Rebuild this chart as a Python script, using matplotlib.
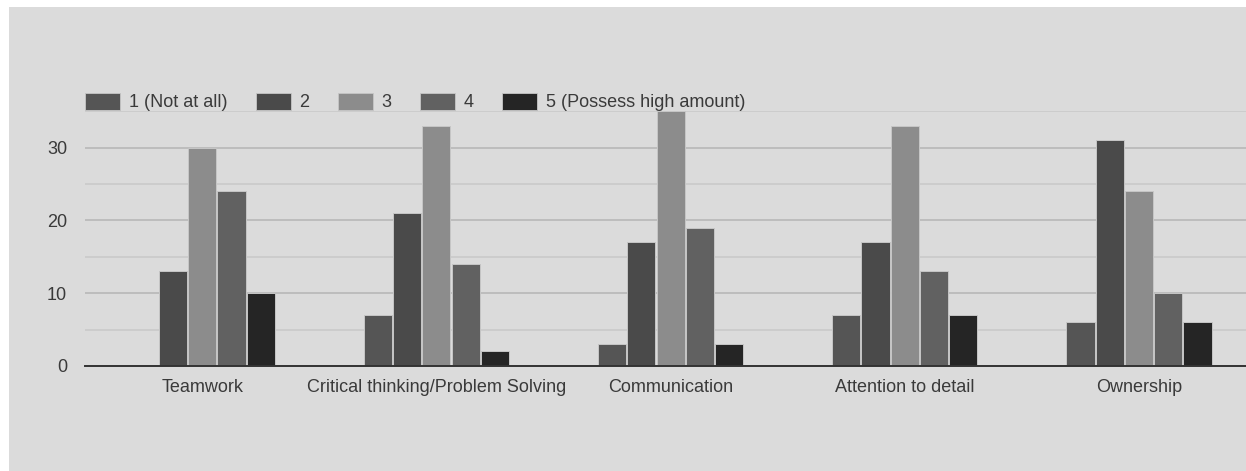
import matplotlib
matplotlib.use("Agg")
import matplotlib.pyplot as plt
from matplotlib.patches import Rectangle, Patch
import numpy as np

# Survey results: number of respondents per rating for each skill
categories = ["Teamwork", "Critical thinking/Problem Solving", "Communication",
              "Attention to detail", "Ownership"]
series_names = ["1 (Not at all)", "2", "3", "4", "5 (Possess high amount)"]
rating_1 = [0, 7, 3, 7, 6]
rating_2 = [13, 21, 17, 17, 31]
rating_3 = [30, 33, 35, 33, 24]
rating_4 = [24, 14, 19, 13, 10]
rating_5 = [10, 2, 3, 7, 6]
y_ticks = [0, 10, 20, 30]

series_values = [rating_1, rating_2, rating_3, rating_4, rating_5]
colors = ["#555555", "#4a4a4a", "#8c8c8c", "#616161", "#252525"]
bg = "#dbdbdb"
text_color = "#3a3a3a"
fs = 13

plt.rcParams["font.family"] = ["Liberation Sans", "DejaVu Sans"]

W, H = 1246, 471
fig = plt.figure(figsize=(W / 100, H / 100), dpi=100, facecolor="white")

# grey panel behind the chart (thin white strip on the left and top)
fig.patches.append(Rectangle((9 / W, 0), 1 - 9 / W, 1 - 7 / H,
                             transform=fig.transFigure, facecolor=bg,
                             edgecolor="none", zorder=-10))

left_px, top_px, bottom_px = 85.1, 111.3, 366.0
ax = fig.add_axes([left_px / W, (H - bottom_px) / H,
                   1 - left_px / W, (bottom_px - top_px) / H])
ax.set_facecolor(bg)
ax.patch.set_alpha(0)

x = np.arange(len(categories))
step = 0.125
width = 0.12
n = len(series_values)
for i, (vals, col) in enumerate(zip(series_values, colors)):
    offs = (i - (n - 1) / 2) * step
    ax.bar(x + offs, vals, width=width, color=col, edgecolor="#c6c6c6",
           linewidth=0.7, zorder=3)

ax.set_ylim(0, 35)
cat_px = 234.2
ax.set_xlim(-0.5, -0.5 + (W - left_px) / cat_px)

ax.set_yticks(y_ticks)
ax.set_yticks([5, 15, 25, 35], minor=True)
ax.set_xticks(x)
ax.set_xticklabels(categories)
ax.tick_params(axis="x", length=0, pad=9.5, labelsize=fs, labelcolor=text_color)
ax.tick_params(axis="y", which="both", length=0, pad=13, labelsize=fs,
               labelcolor=text_color)
ax.grid(axis="y", which="major", color="#bdbdbd", linewidth=1.4, zorder=0)
ax.grid(axis="y", which="minor", color="#c9c9c9", linewidth=1.2, zorder=0)
ax.grid(axis="x", visible=False)
for s in ["top", "right", "left"]:
    ax.spines[s].set_visible(False)
ax.spines["bottom"].set_color("#333333")
ax.spines["bottom"].set_linewidth(1.4)
ax.spines["bottom"].set_zorder(5)

handles = [Patch(facecolor=c, edgecolor="#c6c6c6", linewidth=0.6) for c in colors]
leg = fig.legend(handles, series_names, ncol=5, frameon=False,
                 loc="center left", bbox_to_anchor=(85 / W, (H - 102) / H),
                 bbox_transform=fig.transFigure, fontsize=fs,
                 handlelength=1.94, handleheight=1.1, handletextpad=0.5,
                 columnspacing=1.55, borderpad=0, borderaxespad=0)
for t in leg.get_texts():
    t.set_color(text_color)

fig.savefig("out.png", dpi=100, facecolor="white")
